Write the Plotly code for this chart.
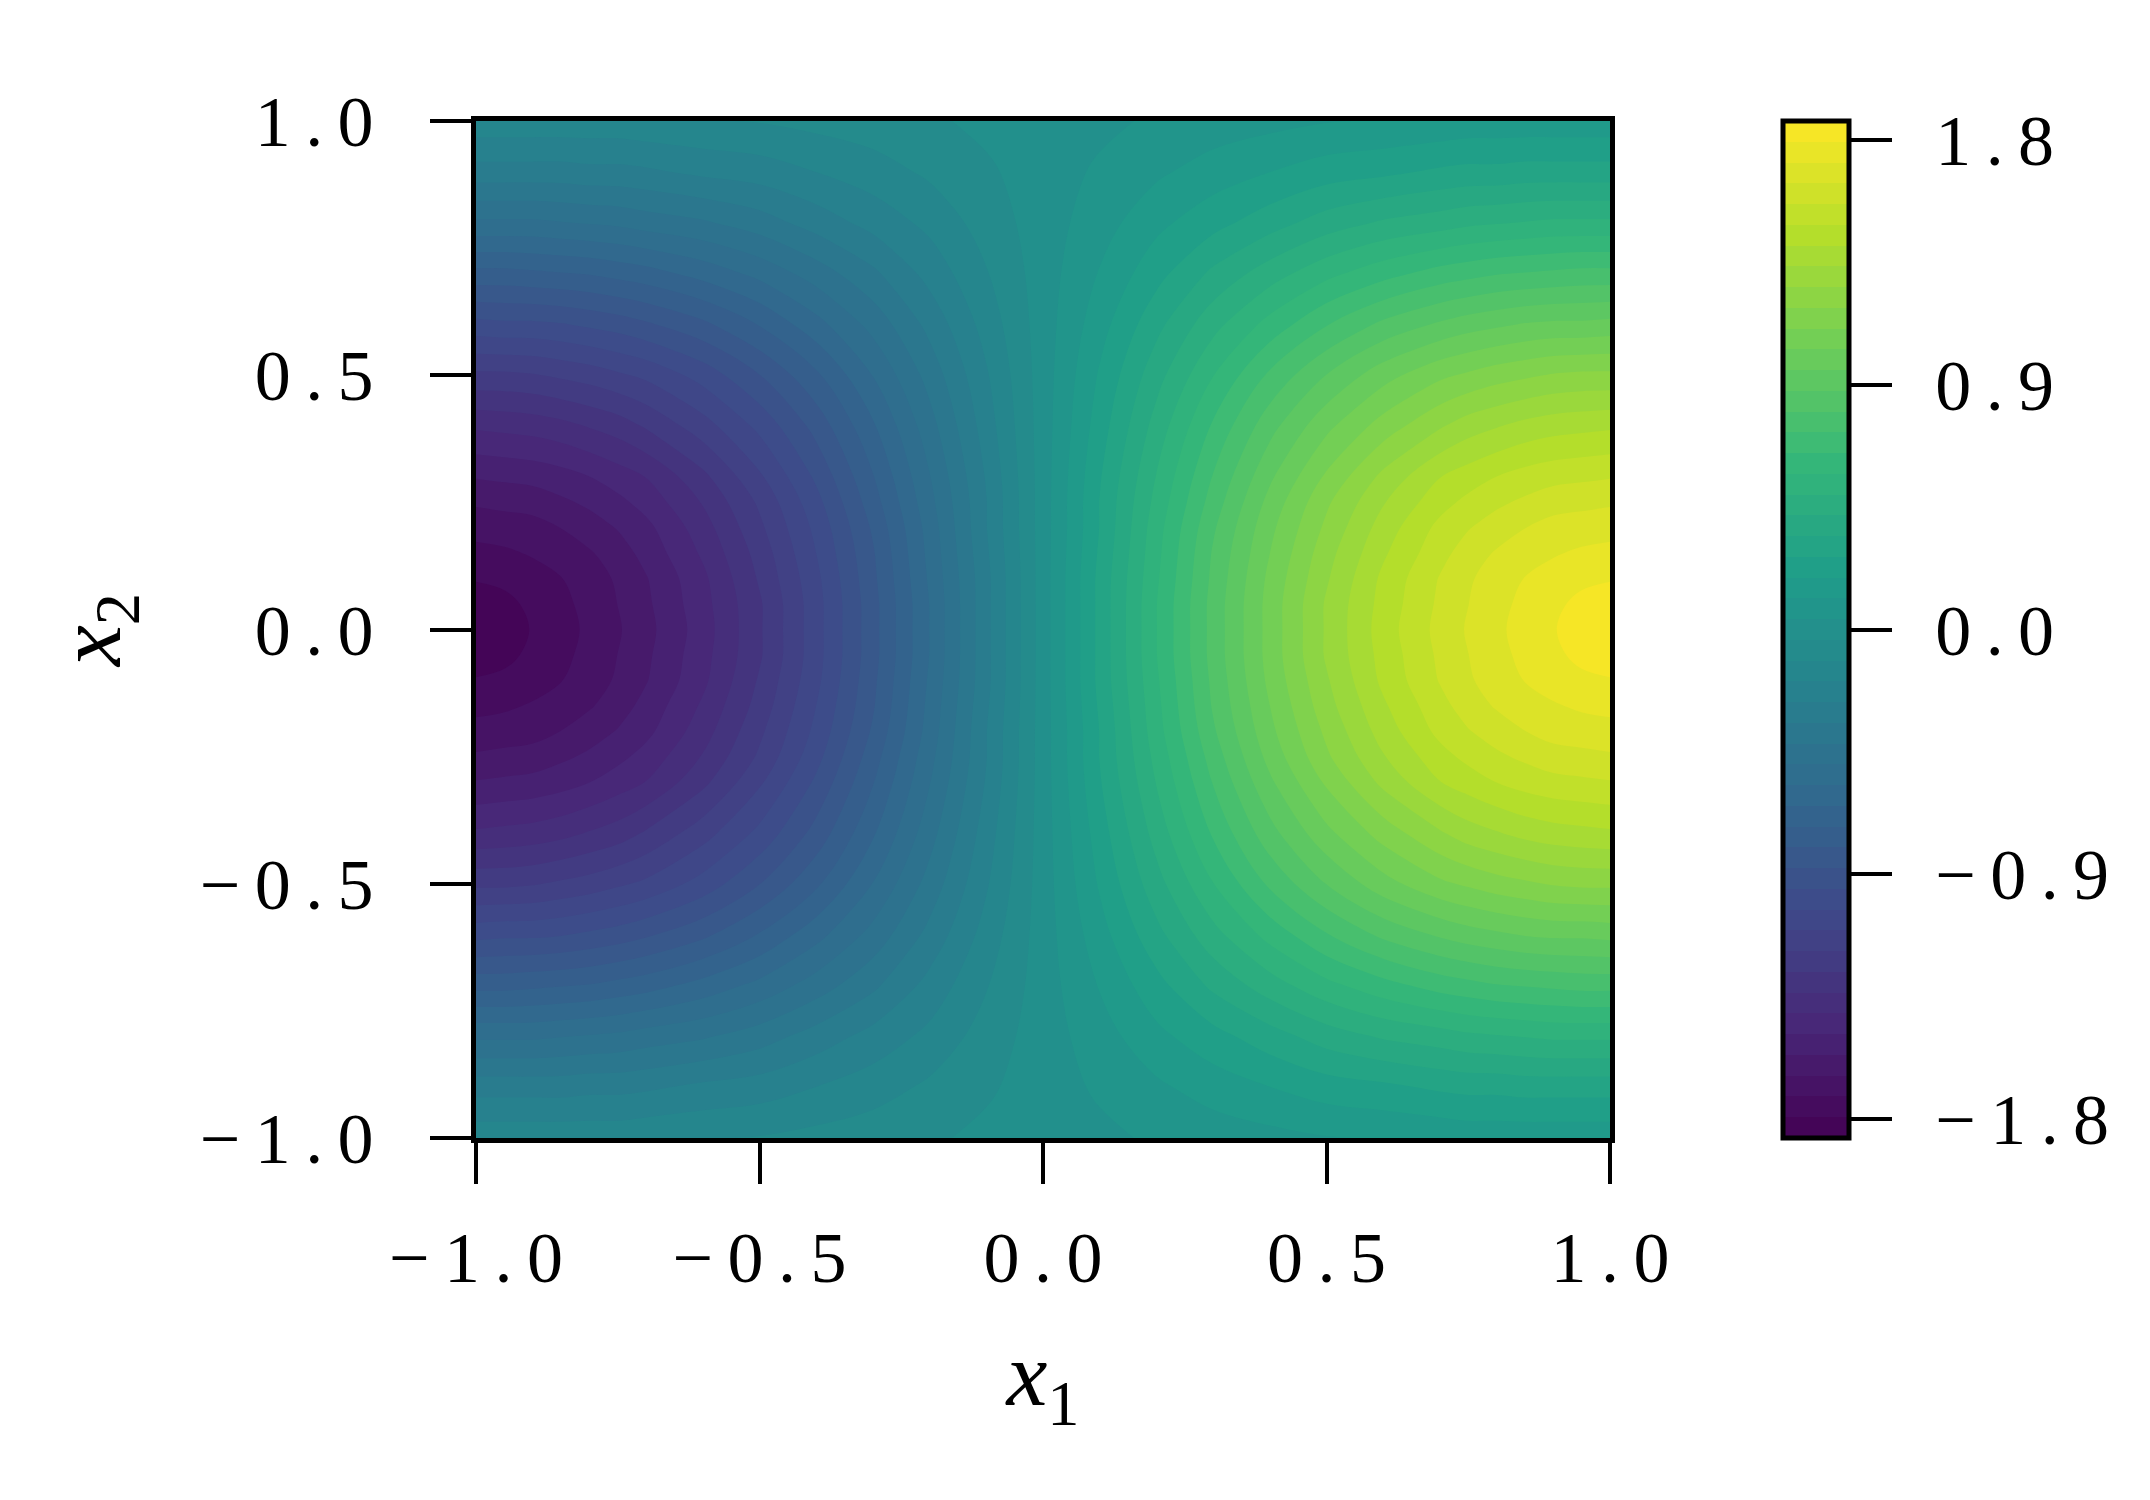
import plotly.graph_objects as go

# ---- data ----
x1_vals = [-1.0, -0.95, -0.9, -0.85, -0.8, -0.75, -0.7, -0.6, -0.5, -0.4, -0.3, -0.2, -0.1, 0.0,
           0.1, 0.2, 0.3, 0.4, 0.5, 0.6, 0.7, 0.75, 0.8, 0.85, 0.9, 0.95, 1.0]
x2_vals = [-1.0, -0.9, -0.8, -0.7, -0.6, -0.5, -0.4, -0.3, -0.25, -0.2, -0.15, -0.1, -0.05, 0.0,
           0.05, 0.1, 0.15, 0.2, 0.25, 0.3, 0.4, 0.5, 0.6, 0.7, 0.8, 0.9, 1.0]

# rows follow x2_vals (from -1 to 1); columns follow x1_vals (from -1 to 1)
z_values = [
    [-0.14, -0.14, -0.14, -0.14, -0.14, -0.14, -0.13, -0.12, -0.11, -0.09, -0.07, -0.05, -0.02, 0.0, 0.02, 0.05, 0.07, 0.09, 0.11, 0.12, 0.13, 0.14, 0.14, 0.14, 0.14, 0.14, 0.14],
    [-0.30, -0.30, -0.30, -0.30, -0.29, -0.29, -0.28, -0.25, -0.23, -0.19, -0.15, -0.10, -0.05, 0.0, 0.05, 0.10, 0.15, 0.19, 0.23, 0.25, 0.28, 0.29, 0.29, 0.30, 0.30, 0.30, 0.30],
    [-0.51, -0.51, -0.51, -0.50, -0.49, -0.48, -0.46, -0.43, -0.38, -0.31, -0.24, -0.17, -0.08, 0.0, 0.08, 0.17, 0.24, 0.31, 0.38, 0.43, 0.46, 0.48, 0.49, 0.50, 0.51, 0.51, 0.51],
    [-0.75, -0.75, -0.74, -0.73, -0.72, -0.70, -0.68, -0.62, -0.55, -0.46, -0.36, -0.24, -0.12, 0.0, 0.12, 0.24, 0.36, 0.46, 0.55, 0.62, 0.68, 0.70, 0.72, 0.73, 0.74, 0.75, 0.75],
    [-0.98, -0.97, -0.97, -0.96, -0.94, -0.92, -0.89, -0.82, -0.72, -0.60, -0.47, -0.32, -0.16, 0.0, 0.16, 0.32, 0.47, 0.60, 0.72, 0.82, 0.89, 0.92, 0.94, 0.96, 0.97, 0.97, 0.98],
    [-1.20, -1.20, -1.19, -1.17, -1.15, -1.12, -1.09, -1.00, -0.88, -0.74, -0.57, -0.39, -0.20, 0.0, 0.20, 0.39, 0.57, 0.74, 0.88, 1.00, 1.09, 1.12, 1.15, 1.17, 1.19, 1.20, 1.20],
    [-1.40, -1.39, -1.38, -1.36, -1.33, -1.30, -1.25, -1.14, -1.01, -0.85, -0.66, -0.45, -0.23, 0.0, 0.23, 0.45, 0.66, 0.85, 1.01, 1.14, 1.25, 1.30, 1.33, 1.36, 1.38, 1.39, 1.40],
    [-1.56, -1.55, -1.54, -1.52, -1.49, -1.45, -1.41, -1.28, -1.12, -0.94, -0.73, -0.50, -0.26, 0.0, 0.26, 0.50, 0.73, 0.94, 1.12, 1.28, 1.41, 1.45, 1.49, 1.52, 1.54, 1.55, 1.56],
    [-1.63, -1.62, -1.61, -1.58, -1.55, -1.51, -1.46, -1.33, -1.17, -0.98, -0.76, -0.52, -0.27, 0.0, 0.27, 0.52, 0.76, 0.98, 1.17, 1.33, 1.46, 1.51, 1.55, 1.58, 1.61, 1.62, 1.63],
    [-1.69, -1.68, -1.67, -1.64, -1.60, -1.56, -1.51, -1.37, -1.20, -1.01, -0.79, -0.54, -0.27, 0.0, 0.27, 0.54, 0.79, 1.01, 1.20, 1.37, 1.51, 1.56, 1.60, 1.64, 1.67, 1.68, 1.69],
    [-1.74, -1.73, -1.71, -1.68, -1.65, -1.60, -1.54, -1.40, -1.23, -1.03, -0.81, -0.55, -0.28, 0.0, 0.28, 0.55, 0.81, 1.03, 1.23, 1.40, 1.54, 1.60, 1.65, 1.68, 1.71, 1.73, 1.74],
    [-1.79, -1.78, -1.75, -1.72, -1.68, -1.63, -1.57, -1.43, -1.25, -1.05, -0.82, -0.56, -0.29, 0.0, 0.29, 0.56, 0.82, 1.05, 1.25, 1.43, 1.57, 1.63, 1.68, 1.72, 1.75, 1.78, 1.79],
    [-1.82, -1.81, -1.78, -1.74, -1.69, -1.64, -1.58, -1.44, -1.27, -1.06, -0.83, -0.57, -0.29, 0.0, 0.29, 0.57, 0.83, 1.06, 1.27, 1.44, 1.58, 1.64, 1.69, 1.74, 1.78, 1.81, 1.82],
    [-1.85, -1.82, -1.79, -1.75, -1.70, -1.65, -1.59, -1.45, -1.27, -1.06, -0.83, -0.57, -0.29, 0.0, 0.29, 0.57, 0.83, 1.06, 1.27, 1.45, 1.59, 1.65, 1.70, 1.75, 1.79, 1.82, 1.85],
    [-1.82, -1.81, -1.78, -1.74, -1.69, -1.64, -1.58, -1.44, -1.27, -1.06, -0.83, -0.57, -0.29, 0.0, 0.29, 0.57, 0.83, 1.06, 1.27, 1.44, 1.58, 1.64, 1.69, 1.74, 1.78, 1.81, 1.82],
    [-1.79, -1.78, -1.75, -1.72, -1.68, -1.63, -1.57, -1.43, -1.25, -1.05, -0.82, -0.56, -0.29, 0.0, 0.29, 0.56, 0.82, 1.05, 1.25, 1.43, 1.57, 1.63, 1.68, 1.72, 1.75, 1.78, 1.79],
    [-1.74, -1.73, -1.71, -1.68, -1.65, -1.60, -1.54, -1.40, -1.23, -1.03, -0.81, -0.55, -0.28, 0.0, 0.28, 0.55, 0.81, 1.03, 1.23, 1.40, 1.54, 1.60, 1.65, 1.68, 1.71, 1.73, 1.74],
    [-1.69, -1.68, -1.67, -1.64, -1.60, -1.56, -1.51, -1.37, -1.20, -1.01, -0.79, -0.54, -0.27, 0.0, 0.27, 0.54, 0.79, 1.01, 1.20, 1.37, 1.51, 1.56, 1.60, 1.64, 1.67, 1.68, 1.69],
    [-1.63, -1.62, -1.61, -1.58, -1.55, -1.51, -1.46, -1.33, -1.17, -0.98, -0.76, -0.52, -0.27, 0.0, 0.27, 0.52, 0.76, 0.98, 1.17, 1.33, 1.46, 1.51, 1.55, 1.58, 1.61, 1.62, 1.63],
    [-1.56, -1.55, -1.54, -1.52, -1.49, -1.45, -1.41, -1.28, -1.12, -0.94, -0.73, -0.50, -0.26, 0.0, 0.26, 0.50, 0.73, 0.94, 1.12, 1.28, 1.41, 1.45, 1.49, 1.52, 1.54, 1.55, 1.56],
    [-1.40, -1.39, -1.38, -1.36, -1.33, -1.30, -1.25, -1.14, -1.01, -0.85, -0.66, -0.45, -0.23, 0.0, 0.23, 0.45, 0.66, 0.85, 1.01, 1.14, 1.25, 1.30, 1.33, 1.36, 1.38, 1.39, 1.40],
    [-1.20, -1.20, -1.19, -1.17, -1.15, -1.12, -1.09, -1.00, -0.88, -0.74, -0.57, -0.39, -0.20, 0.0, 0.20, 0.39, 0.57, 0.74, 0.88, 1.00, 1.09, 1.12, 1.15, 1.17, 1.19, 1.20, 1.20],
    [-0.98, -0.97, -0.97, -0.96, -0.94, -0.92, -0.89, -0.82, -0.72, -0.60, -0.47, -0.32, -0.16, 0.0, 0.16, 0.32, 0.47, 0.60, 0.72, 0.82, 0.89, 0.92, 0.94, 0.96, 0.97, 0.97, 0.98],
    [-0.75, -0.75, -0.74, -0.73, -0.72, -0.70, -0.68, -0.62, -0.55, -0.46, -0.36, -0.24, -0.12, 0.0, 0.12, 0.24, 0.36, 0.46, 0.55, 0.62, 0.68, 0.70, 0.72, 0.73, 0.74, 0.75, 0.75],
    [-0.51, -0.51, -0.51, -0.50, -0.49, -0.48, -0.46, -0.43, -0.38, -0.31, -0.24, -0.17, -0.08, 0.0, 0.08, 0.17, 0.24, 0.31, 0.38, 0.43, 0.46, 0.48, 0.49, 0.50, 0.51, 0.51, 0.51],
    [-0.30, -0.30, -0.30, -0.30, -0.29, -0.29, -0.28, -0.25, -0.23, -0.19, -0.15, -0.10, -0.05, 0.0, 0.05, 0.10, 0.15, 0.19, 0.23, 0.25, 0.28, 0.29, 0.29, 0.30, 0.30, 0.30, 0.30],
    [-0.14, -0.14, -0.14, -0.14, -0.14, -0.14, -0.13, -0.12, -0.11, -0.09, -0.07, -0.05, -0.02, 0.0, 0.02, 0.05, 0.07, 0.09, 0.11, 0.12, 0.13, 0.14, 0.14, 0.14, 0.14, 0.14, 0.14],
]

SP = "\u2009"  # thin space, mimics the wide math spacing of the original labels
axis_tick_vals = [-1.0, -0.5, 0.0, 0.5, 1.0]
axis_tick_text = ["\u2212" + SP + "1" + SP + "." + SP + "0",
                  "\u2212" + SP + "0" + SP + "." + SP + "5",
                  "0" + SP + "." + SP + "0",
                  "0" + SP + "." + SP + "5",
                  "1" + SP + "." + SP + "0"]
cbar_tick_vals = [-1.8, -0.9, 0.0, 0.9, 1.8]
cbar_tick_text = [SP + SP + "\u2212" + SP + "1" + SP + "." + SP + "8",
                  SP + SP + "\u2212" + SP + "0" + SP + "." + SP + "9",
                  SP + SP + "0" + SP + "." + SP + "0",
                  SP + SP + "0" + SP + "." + SP + "9",
                  SP + SP + "1" + SP + "." + SP + "8"]

level_min = -1.87
level_max = 1.87
n_levels = 50

# ---- layout geometry (pixels; the page body adds a small margin) ----
W, H = 2134, 1484
L, R, T, B = 468, 1602, 113, 1130
FONT = "Liberation Serif, Times New Roman, serif"
TICK_FS = 72
TITLE_FS = 92

fig = go.Figure(
    go.Contour(
        x=x1_vals,
        y=x2_vals,
        z=z_values,
        colorscale="Viridis",
        zmin=level_min,
        zmax=level_max,
        autocontour=False,
        contours=dict(start=level_min, end=level_max,
                      size=(level_max - level_min) / (n_levels - 1),
                      coloring="fill", showlines=False),
        line=dict(smoothing=1.0, width=0),
        colorbar=dict(
            x=(1775 - L) / (R - L), xanchor="left", xref="paper",
            y=0.5, yanchor="middle",
            len=B - T, lenmode="pixels",
            thickness=66, thicknessmode="pixels",
            xpad=0, ypad=0,
            outlinewidth=5, outlinecolor="black",
            tickmode="array", tickvals=cbar_tick_vals, ticktext=cbar_tick_text,
            ticks="outside", ticklen=41, tickwidth=4, tickcolor="black",
            tickfont=dict(family=FONT, size=TICK_FS, color="black"),
        ),
        hoverinfo="skip",
    )
)

axis_common = dict(
    range=[-1, 1],
    showgrid=False, zeroline=False,
    showline=True, linewidth=5, linecolor="black", mirror=True,
    ticks="outside", ticklen=41, tickwidth=4, tickcolor="black",
    tickmode="array", tickvals=axis_tick_vals, ticktext=axis_tick_text,
    tickfont=dict(family=FONT, size=TICK_FS, color="black"),
)

fig.update_layout(
    width=W, height=H, autosize=False,
    margin=dict(l=L, r=W - R, t=T, b=H - B, pad=0),
    paper_bgcolor="white", plot_bgcolor="white",
    xaxis=dict(axis_common,
               title=dict(text="<i>x</i><sub>1</sub>",
                          font=dict(family=FONT, size=TITLE_FS, color="black"),
                          standoff=45),
               ticklabelstandoff=12),
    yaxis=dict(axis_common,
               title=dict(text="<i>x</i><sub>2</sub>",
                          font=dict(family=FONT, size=TITLE_FS, color="black"),
                          standoff=50),
               ticklabelstandoff=42),
    showlegend=False,
)

fig.write_html("out.html")
